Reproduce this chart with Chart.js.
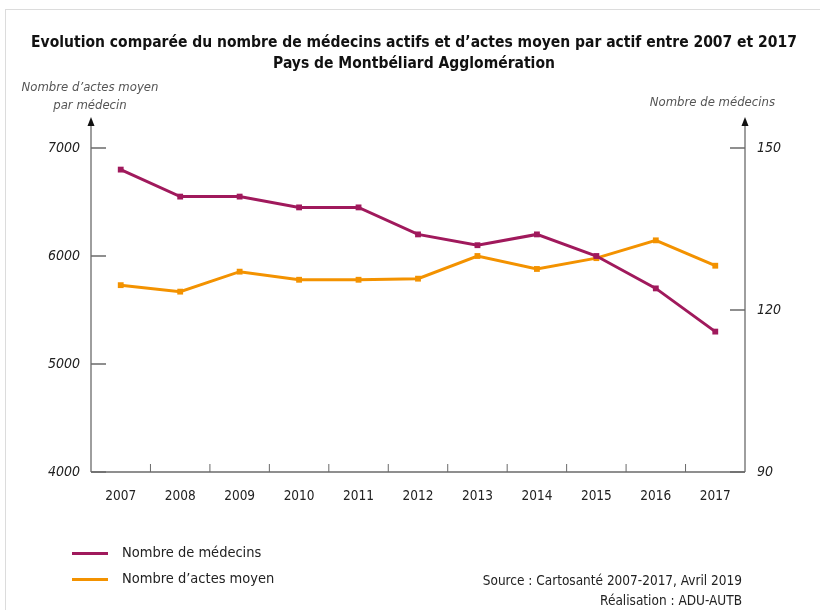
<!DOCTYPE html>
<html>
<head>
<meta charset="utf-8">
<script src="https://cdn.jsdelivr.net/npm/chart.js@4.4.0/dist/chart.umd.min.js"></script>
<style>
    body { margin: 0; background: #fff; }
    #wrap { position: relative; width: 820px; height: 610px; overflow: hidden;
            font-family: "Liberation Sans Narrow", "DejaVu Sans Condensed", sans-serif; color: #222; }
    .frame { position: absolute; left: 5px; top: 9px; right: -5px; bottom: -5px;
             border-top: 1px solid #dcdcdc; border-left: 1px solid #dcdcdc; }
    canvas { position: absolute; left: 0; top: 0; }
    .t { position: absolute; white-space: nowrap; }
    .titre { left: 0; width: 828px; top: 32px; text-align: center; font-weight: bold; font-size: 15.5px; line-height: 21px; color: #111; }
    .axe { font-style: italic; font-size: 13px; color: #555; line-height: 18px; }
    .leg { font-size: 14.5px; left: 122px; }
    .trait { position: absolute; left: 72px; width: 36px; height: 3px; }
    .src { right: 78px; font-size: 13.5px; text-align: right; line-height: 20px; }
</style>
</head>
<body>
<div id="wrap">
    <div class="frame"></div>
    <canvas id="graph" width="820" height="610"></canvas>
    <div class="t titre">Evolution comparée du nombre de médecins actifs et d’actes moyen par actif entre 2007 et 2017<br>Pays de Montbéliard Agglomération</div>
    <div class="t axe" style="left:18px; top:78px; width:144px; text-align:center;">Nombre d’actes moyen<br>par médecin</div>
    <div class="t axe" style="right:45px; top:93px;">Nombre de médecins</div>
    <div class="trait" style="top:552px; background:#a0195c;"></div>
    <div class="t leg" style="top:544px;">Nombre de médecins</div>
    <div class="trait" style="top:578px; background:#f39200;"></div>
    <div class="t leg" style="top:570px;">Nombre d’actes moyen</div>
    <div class="t src" style="top:570px;">Source : Cartosanté 2007-2017, Avril 2019<br>Réalisation : ADU-AUTB</div>
</div>
<script>
// Données
const annees = ['2007', '2008', '2009', '2010', '2011', '2012', '2013', '2014', '2015', '2016', '2017'];
const nbMedecins = [146, 141, 141, 139, 139, 134, 132, 134, 130, 124, 116];
const nbActes = [5730, 5670, 5855, 5780, 5780, 5790, 6000, 5880, 5980, 6145, 5910];
const ticksActes = [4000, 5000, 6000, 7000];
const ticksMedecins = [90, 120, 150];

const POLICE = '"Liberation Sans Narrow", "DejaVu Sans Condensed", sans-serif';
const GRIS_AXE = '#6a6a6a';

// Axes dessinés à la main : flèches, graduations vers l'intérieur
const axesPlugin = {
    id: 'axes',
    beforeDatasetsDraw(chart) {
        const { ctx, chartArea: a, scales } = chart;
        const haut = a.top - 31;
        const trait = (x1, y1, x2, y2) => {
            ctx.beginPath(); ctx.moveTo(x1, y1); ctx.lineTo(x2, y2); ctx.stroke();
        };
        const fleche = (x) => {
            ctx.beginPath();
            ctx.moveTo(x, haut);
            ctx.lineTo(x - 3.5, haut + 9);
            ctx.lineTo(x + 3.5, haut + 9);
            ctx.closePath();
            ctx.fill();
        };
        ctx.save();
        ctx.strokeStyle = GRIS_AXE;
        ctx.fillStyle = '#111';
        ctx.lineWidth = 1.3;
        trait(a.left, a.bottom, a.right, a.bottom);
        trait(a.left, a.bottom, a.left, haut + 5);
        trait(a.right, a.bottom, a.right, haut + 5);
        fleche(a.left);
        fleche(a.right);

        ctx.lineWidth = 1.5;
        scales.yA.ticks.forEach(t => {
            const y = scales.yA.getPixelForValue(t.value);
            trait(a.left, y, a.left + 15, y);
        });
        scales.yM.ticks.forEach(t => {
            const y = scales.yM.getPixelForValue(t.value);
            trait(a.right - 15, y, a.right, y);
        });

        ctx.lineWidth = 1;
        for (let i = 1; i < annees.length; i++) {
            const x = (scales.x.getPixelForValue(i - 1) + scales.x.getPixelForValue(i)) / 2;
            trait(x, a.bottom, x, a.bottom - 8);
        }
        ctx.restore();
    }
};

new Chart(document.getElementById('graph'), {
    type: 'line',
    data: {
        labels: annees,
        datasets: [{
            label: 'Nombre de médecins',
            data: nbMedecins,
            yAxisID: 'yM',
            borderColor: '#a0195c',
            backgroundColor: '#a0195c',
            borderWidth: 3,
            pointStyle: 'rect',
            pointRadius: 2,
            tension: 0
        }, {
            label: 'Nombre d’actes moyen',
            data: nbActes,
            yAxisID: 'yA',
            borderColor: '#f39200',
            backgroundColor: '#f39200',
            borderWidth: 3,
            pointStyle: 'rect',
            pointRadius: 2,
            tension: 0
        }]
    },
    options: {
        responsive: false,
        animation: false,
        devicePixelRatio: 1,
        layout: { padding: { top: 148, left: 0, right: 0, bottom: 0 } },
        plugins: {
            legend: { display: false },
            tooltip: { enabled: false }
        },
        scales: {
            x: {
                offset: true,
                grid: { display: false, drawTicks: false },
                border: { display: false },
                ticks: {
                    color: '#222',
                    font: { family: POLICE, size: 13.5 },
                    padding: 16,
                    maxRotation: 0
                },
                afterFit: s => { s.height = 138; }
            },
            yA: {
                position: 'left',
                min: 4000,
                max: 7000,
                afterBuildTicks: s => { s.ticks = ticksActes.map(v => ({ value: v })); },
                grid: { display: false, drawTicks: false },
                border: { display: false },
                ticks: {
                    color: '#222',
                    font: { family: POLICE, size: 14, style: 'italic' },
                    padding: 11,
                    callback: v => String(v)
                },
                afterFit: s => { s.width = 91; }
            },
            yM: {
                position: 'right',
                min: 90,
                max: 150,
                afterBuildTicks: s => { s.ticks = ticksMedecins.map(v => ({ value: v })); },
                grid: { display: false, drawTicks: false },
                border: { display: false },
                ticks: {
                    color: '#222',
                    font: { family: POLICE, size: 14, style: 'italic' },
                    padding: 12,
                    callback: v => String(v)
                },
                afterFit: s => { s.width = 75; }
            }
        }
    },
    plugins: [axesPlugin]
});
</script>
</body>
</html>
